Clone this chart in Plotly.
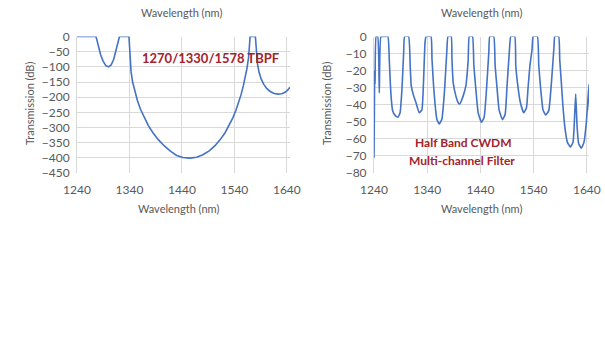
import plotly.graph_objects as go

# Left chart: 1270/1330/1578 TBPF
tbpf_wl = [1240, 1276, 1278, 1281, 1285, 1290, 1295, 1300, 1305, 1310, 1314, 1317, 1319, 1321, 1339,
           1340, 1341, 1343, 1346, 1350, 1355, 1361, 1368, 1376, 1385, 1395, 1406, 1418, 1430,
           1442, 1455, 1468, 1480, 1492, 1503, 1513, 1522, 1530, 1537, 1543, 1548, 1553,
           1557, 1561, 1564, 1567, 1569, 1570, 1580, 1581, 1582, 1584, 1587, 1591, 1596,
           1602, 1609, 1616, 1623, 1630, 1636, 1641, 1646]
tbpf_db = [0, 0, -12, -35, -60, -82, -96, -100, -94, -75, -50, -28, -12, 0, 0,
           -40, -80, -115, -150, -180, -210, -240, -268, -294, -318, -340, -360, -378, -392,
           -399, -401, -398, -390, -377, -360, -340, -318, -293, -268, -243, -218, -190,
           -163, -133, -105, -70, -35, 0, 0, -30, -60, -90, -118, -140, -158,
           -172, -182, -188, -190, -189, -185, -178, -167]

# Right chart: Half Band CWDM multi-channel filter
cwdm_wl = [1240, 1240.7, 1241.3, 1242, 1244, 1247, 1250, 1253, 1258, 1266,
           1268.7, 1270.6, 1272.5, 1275, 1280, 1285, 1289, 1292.5, 1295.7, 1297.6, 1305,
           1308, 1310, 1314.5, 1318.8, 1325, 1330, 1333, 1336, 1338, 1347,
           1349, 1352, 1355, 1358, 1362.6, 1367.6, 1372.7, 1377, 1379, 1385,
           1386.5, 1388.8, 1393.8, 1398, 1401, 1407.6, 1412.6, 1417, 1419, 1425,
           1427.6, 1431.4, 1435.7, 1442, 1447, 1451.4, 1455.7, 1457.6, 1465,
           1467.6, 1471.4, 1475, 1481.4, 1486.4, 1490, 1495, 1497, 1504.5,
           1506.4, 1510.7, 1515, 1521.4, 1526.5, 1529.5, 1533, 1537, 1539, 1547,
           1549.6, 1553.3, 1557.6, 1562.7, 1568.3, 1573.4, 1578.3, 1579.6, 1587,
           1589, 1592, 1595, 1598.3, 1603.3, 1609, 1614, 1617, 1619, 1621.5, 1624.6,
           1629.7, 1634.6, 1639, 1642, 1644, 1645]
cwdm_db = [-71, -45, -20, -28, 0, 0, -33, 0, 0, 0,
           -13.5, -27, -36.7, -43.5, -46.4, -47.3, -44.7, -31, -9.6, 0, 0,
           -17, -29, -34.8, -38.7, -44.7, -43, -27, -3, 0, 0,
           -13.5, -29, -40.6, -48.4, -51.3, -48.4, -31, -7.6, 0, 0,
           -13.5, -27, -34.8, -38.7, -39.6, -34.8, -29, -13.5, 0, 0,
           -17, -31, -44.7, -50.3, -47.3, -31, -9.6, 0, 0,
           -17, -31, -43, -48.7, -45.7, -29, -5.6, 0, 0,
           -17, -30, -38.7, -44.7, -41.8, -30, -17, -7.6, 0, 0,
           -17, -31, -43, -46, -43.6, -27, -5.6, 0, 0,
           -13.5, -27, -40.6, -52.2, -61.9, -64.8, -61.9, -46.4, -33.8, -52.2, -62.9,
           -65.4, -61.9, -50.3, -36.7, -28, -43]

x_ticks = [1240, 1340, 1440, 1540, 1640]
left_y_ticks = [0, -50, -100, -150, -200, -250, -300, -350, -400, -450]
right_y_ticks = [0, -10, -20, -30, -40, -50, -60, -70, -80]

W, H = 605, 355
FONT = "Lato"
GRAY = "#595959"
GRID = "#d9d9d9"
RED = "#a3232b"
BLUE = "#4472c4"

def px(x):
    return x / W

def py(y):
    return 1 - y / H

fig = go.Figure()
fig.add_trace(go.Scatter(x=tbpf_wl, y=tbpf_db, mode="lines",
                         line=dict(color=BLUE, width=1.6),
                         xaxis="x", yaxis="y", showlegend=False))
fig.add_trace(go.Scatter(x=cwdm_wl, y=cwdm_db, mode="lines",
                         line=dict(color=BLUE, width=1.6, shape="spline", smoothing=0.4),
                         xaxis="x2", yaxis="y2", showlegend=False))

ydom = [py(173), py(36.5)]
axis_common = dict(showgrid=True, gridcolor=GRID, gridwidth=1, zeroline=False,
                   tickfont=dict(family=FONT, size=12, color=GRAY),
                   ticks="outside", tickcolor="rgba(0,0,0,0)", showline=False,
                   automargin=False)
xa = dict(axis_common, ticklen=6)
ya = dict(axis_common, ticklen=4, showline=True, linecolor=GRID)

fig.update_layout(
    width=W, height=H,
    margin=dict(l=0, r=0, t=0, b=0),
    paper_bgcolor="white", plot_bgcolor="white",
    font=dict(family=FONT, color=GRAY),
    xaxis=dict(domain=[px(77), px(290)], range=[1240, 1646], tickvals=x_ticks,
               anchor="y", **xa),
    yaxis=dict(domain=ydom, range=[-450, 0], tickvals=left_y_ticks, anchor="x", **ya),
    xaxis2=dict(domain=[px(374), px(589)], range=[1240, 1644], tickvals=x_ticks,
                anchor="y2", **xa),
    yaxis2=dict(domain=ydom, range=[-80, 0], tickvals=right_y_ticks, anchor="x2", **ya),
)

def ann(text, x, y, size=11, color=GRAY, angle=0, bold=False):
    fig.add_annotation(text=f"<b>{text}</b>" if bold else text,
                       xref="paper", yref="paper", x=px(x), y=py(y),
                       showarrow=False, textangle=angle,
                       font=dict(family=FONT, size=size, color=color),
                       xanchor="center", yanchor="middle")

ann("Wavelength (nm)", 181, 13)
ann("Wavelength (nm)", 481, 13)
ann("Wavelength (nm)", 178, 208)
ann("Wavelength (nm)", 481, 208)
ann("Transmission (dB)", 29, 104, angle=-90)
ann("Transmission (dB)", 326, 104, angle=-90)
ann("1270/1330/1578 TBPF", 210, 58, size=13, color=RED, bold=True)
ann("Half Band CWDM", 463, 142, size=12, color=RED, bold=True)
ann("Multi-channel Filter", 462, 160, size=12, color=RED, bold=True)

# remove the default page margin so the 605x355 figure fills the window exactly
fig.write_html("out.html",
               config={"displayModeBar": False},
               post_script="document.body.style.margin='0';"
                           "document.documentElement.style.overflow='hidden';")
